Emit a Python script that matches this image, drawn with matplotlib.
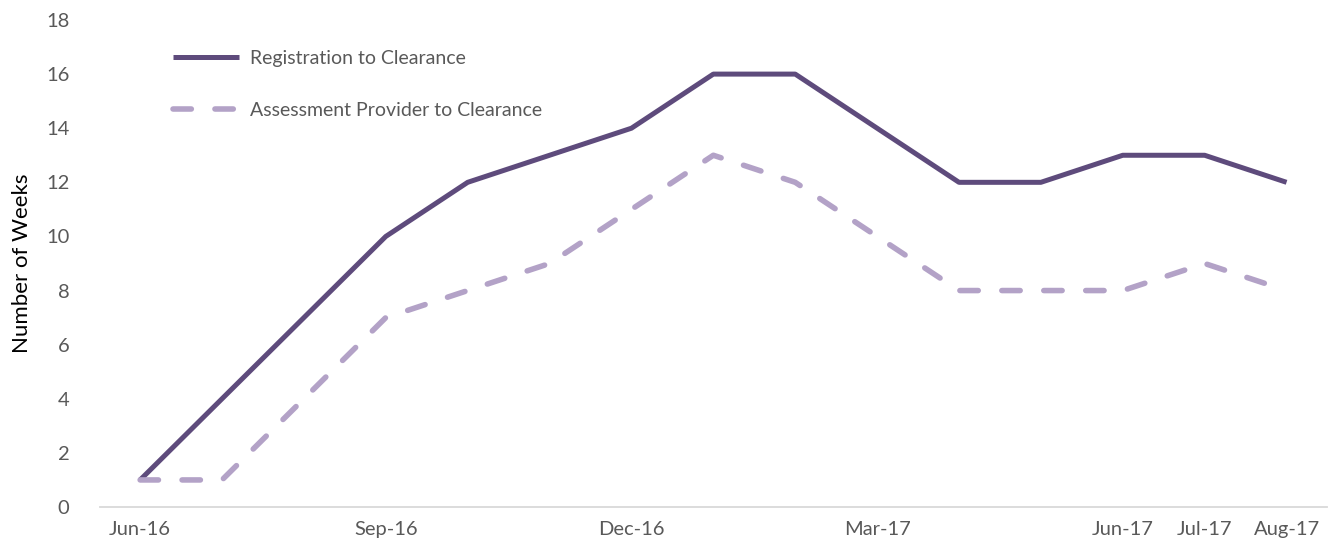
import matplotlib
matplotlib.use("Agg")
import matplotlib.pyplot as plt

months = ["Jun-16", "Jul-16", "Aug-16", "Sep-16", "Oct-16", "Nov-16", "Dec-16",
          "Jan-17", "Feb-17", "Mar-17", "Apr-17", "May-17", "Jun-17", "Jul-17", "Aug-17"]
registration = [1, 4, 7, 10, 12, 13, 14, 16, 16, 14, 12, 12, 13, 13, 12]
assessment = [1, 1, 4, 7, 8, 9, 11, 13, 12, 10, 8, 8, 8, 9, 8]
shown_ticks = ["Jun-16", "Sep-16", "Dec-16", "Mar-17", "Jun-17", "Jul-17", "Aug-17"]

plt.rcParams['font.family'] = ['Lato', 'DejaVu Sans']

fig = plt.figure(figsize=(13.28, 5.49), dpi=100)
ax = fig.add_axes([0.0753, 0.0765, 0.9237, 0.8871])

x = list(range(len(months)))
ax.plot(x, registration, color="#5E4B7C", lw=3.6, label="Registration to Clearance",
        solid_capstyle="butt", solid_joinstyle="round")
ax.plot(x, assessment, color="#B3A2C7", lw=4.0, label="Assessment Provider to Clearance",
        linestyle=(0, (3.3, 4.25)), dash_capstyle="round", dash_joinstyle="round")

ax.set_xlim(-0.49, 14.49)
ax.set_ylim(0, 18)
ax.set_yticks(range(0, 19, 2))
tick_pos = [months.index(m) for m in shown_ticks]
ax.set_xticks(tick_pos)
ax.set_xticklabels(shown_ticks)
ax.tick_params(axis="both", length=0, labelsize=14.5, labelcolor="#595959")
ax.tick_params(axis="x", pad=10)
ax.tick_params(axis="y", pad=22)

for s in ["top", "right", "left"]:
    ax.spines[s].set_visible(False)
ax.spines["bottom"].set_color("#D9D9D9")
ax.spines["bottom"].set_linewidth(1.3)

ax.set_ylabel("Number of Weeks", fontsize=16, color="black", labelpad=10)

leg = ax.legend(loc="upper left", bbox_to_anchor=(0.045, 0.975), frameon=False,
                fontsize=14, labelspacing=1.8, handlelength=3.4, handletextpad=0.55)
for t in leg.get_texts():
    t.set_color("#595959")

fig.savefig("out.png", dpi=100)
